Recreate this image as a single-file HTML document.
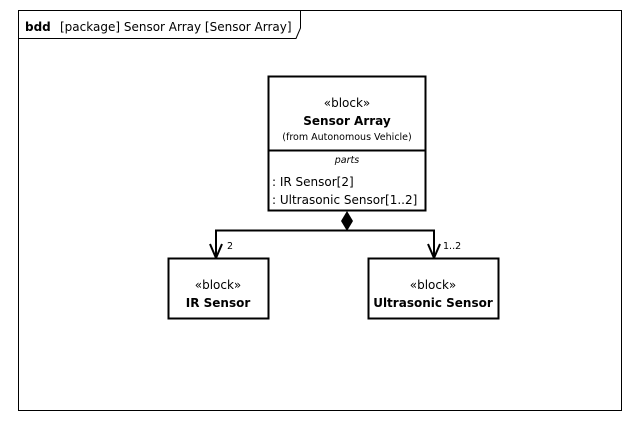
<!DOCTYPE html><html><head><style>body{margin:0;background:#fff}svg text{font-family:"DejaVu Sans","Liberation Sans",sans-serif;fill:#000}</style></head><body>
<svg width="640" height="419" xmlns="http://www.w3.org/2000/svg">
<rect x="18.5" y="10.5" width="603" height="400" fill="#fff" stroke="#000" stroke-width="1"/>
<path d="M18.5 38.5 H296 L300.5 28 V10.5" fill="none" stroke="#000"/>
<text x="25" y="31" font-size="12"><tspan font-weight="bold">bdd</tspan><tspan x="60">[package] Sensor Array [Sensor Array]</tspan></text>
<rect x="268.5" y="76.5" width="157" height="134" fill="#fff" stroke="#000" stroke-width="2"/>
<line x1="268" y1="150.5" x2="425" y2="150.5" stroke="#000" stroke-width="2"/>
<text x="347" y="107" font-size="12" text-anchor="middle">«block»</text>
<text x="347" y="125" font-size="12" font-weight="bold" text-anchor="middle">Sensor Array</text>
<text x="347" y="140" font-size="9.5" text-anchor="middle">(from Autonomous Vehicle)</text>
<text x="347" y="163" font-size="9.5" font-style="italic" text-anchor="middle">parts</text>
<text x="272" y="186" font-size="12">: IR Sensor[2]</text>
<text x="272" y="204" font-size="12">: Ultrasonic Sensor[1..2]</text>
<polygon points="347,211 353,221 347,231 341,221" fill="#000"/>
<path d="M216 258 V230.5 H434 V258" fill="none" stroke="#000" stroke-width="2"/>
<path d="M210 244 L216 258 L222 244 M428 244 L434 258 L440 244" fill="none" stroke="#000" stroke-width="2"/>
<text x="227" y="249" font-size="9.5">2</text>
<text x="443" y="249" font-size="9.5">1..2</text>
<rect x="168.5" y="258.5" width="100" height="60" fill="#fff" stroke="#000" stroke-width="2"/>
<text x="218" y="289" font-size="12" text-anchor="middle">«block»</text>
<text x="218" y="307" font-size="12" font-weight="bold" text-anchor="middle">IR Sensor</text>
<rect x="368.5" y="258.5" width="130" height="60" fill="#fff" stroke="#000" stroke-width="2"/>
<text x="433" y="289" font-size="12" text-anchor="middle">«block»</text>
<text x="433" y="307" font-size="12" font-weight="bold" text-anchor="middle">Ultrasonic Sensor</text>
</svg></body></html>
